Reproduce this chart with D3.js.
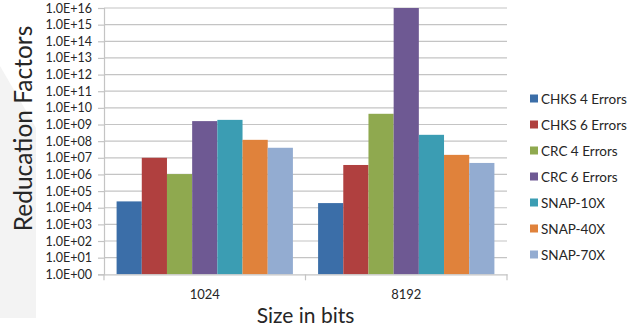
<!DOCTYPE html>
<html>
<head>
<meta charset="utf-8">
<script src="https://cdn.jsdelivr.net/npm/d3@7/dist/d3.min.js"></script>
<style>
  html, body { margin: 0; padding: 0; background: #fff; }
  svg { display: block; font-family: Lato, "Open Sans", sans-serif; }
</style>
</head>
<body>
<svg id="chart" width="634" height="326"></svg>
<script>
// Block sizes on the x axis
const categories = ["1024", "8192"];

// Series names and fill colours
const seriesNames = ["CHKS 4 Errors", "CHKS 6 Errors", "CRC 4 Errors", "CRC 6 Errors",
                     "SNAP-10X", "SNAP-40X", "SNAP-70X"];
const seriesColors = ["#3b6ea8", "#b0403f", "#8fa94f", "#6e5993", "#3b9db3", "#e0823b", "#93acd1"];

// Reduction factor per series, one value per category
const chks4 = [2.4e4, 1.9e4];
const chks6 = [1.0e7, 3.7e6];
const crc4  = [1.05e6, 4.4e9];
const crc6  = [1.6e9, 1.0e16];
const snap10 = [1.9e9, 2.4e8];
const snap40 = [1.2e8, 1.5e7];
const snap70 = [4.0e7, 4.9e6];
const seriesValues = [chks4, chks6, crc4, crc6, snap10, snap40, snap70];

// Decade ticks on the log axis and their labels
const tickValues = [1e0, 1e1, 1e2, 1e3, 1e4, 1e5, 1e6, 1e7, 1e8, 1e9, 1e10, 1e11, 1e12, 1e13, 1e14, 1e15, 1e16];
const tickLabels = ["1.0E+00", "1.0E+01", "1.0E+02", "1.0E+03", "1.0E+04", "1.0E+05", "1.0E+06",
                    "1.0E+07", "1.0E+08", "1.0E+09", "1.0E+10", "1.0E+11", "1.0E+12", "1.0E+13",
                    "1.0E+14", "1.0E+15", "1.0E+16"];

const svg = d3.select("#chart");
const plot = { left: 104, right: 507, top: 8, bottom: 274.3 };
const gridColor = "#c4c4c4";
const textColor = "#262626";

// faint background shape on the left edge
svg.append("path")
  .attr("d", "M0,66 L36,128 L36,318 L0,318 Z")
  .attr("fill", "#f3f3f3");

const x0 = d3.scaleBand().domain(categories).range([plot.left, plot.right]).padding(0);
const x1 = d3.scaleBand().domain(d3.range(seriesNames.length))
  .range([0, x0.bandwidth()]).paddingInner(0).paddingOuter(0.5);
const y = d3.scaleLog().domain([1, 1e16]).range([plot.bottom, plot.top]);

// horizontal gridlines
svg.append("g").selectAll("line").data(tickValues.slice(1)).join("line")
  .attr("x1", plot.left).attr("x2", plot.right)
  .attr("y1", d => y(d)).attr("y2", d => y(d))
  .attr("stroke", gridColor).attr("stroke-width", 1.2);

// y axis
const yAxis = d3.axisLeft(y).tickValues(tickValues)
  .tickFormat((d, i) => tickLabels[i]).tickSize(6).tickPadding(6);
const gy = svg.append("g").attr("transform", `translate(${plot.left},0)`).call(yAxis);
gy.select(".domain").attr("stroke", gridColor).attr("stroke-width", 1.2);
gy.selectAll(".tick line").attr("stroke", gridColor).attr("stroke-width", 1.2);
gy.selectAll(".tick text").attr("fill", textColor).style("font-size", "12.5px")
  .style("font-family", "Lato, sans-serif");

// bars
const groups = svg.append("g").selectAll("g").data(categories).join("g")
  .attr("transform", d => `translate(${x0(d)},0)`);
groups.selectAll("rect")
  .data((c, ci) => seriesValues.map((vals, si) => ({ si, v: vals[ci] })))
  .join("rect")
  .attr("x", d => x1(d.si))
  .attr("width", x1.bandwidth())
  .attr("y", d => y(d.v))
  .attr("height", d => y(1) - y(d.v))
  .attr("fill", d => seriesColors[d.si]);

// x axis
const xAxis = d3.axisBottom(x0).tickSize(0).tickPadding(15);
const gx = svg.append("g").attr("transform", `translate(0,${plot.bottom})`).call(xAxis);
gx.select(".domain").attr("stroke", gridColor).attr("stroke-width", 1.2);
gx.selectAll(".tick text").attr("fill", textColor).style("font-size", "13px")
  .style("font-family", "Lato, sans-serif");
// category separators below the axis
const seps = [plot.left, ...categories.slice(1).map(c => x0(c)), plot.right];
svg.append("g").selectAll("line").data(seps).join("line")
  .attr("x1", d => d).attr("x2", d => d)
  .attr("y1", plot.bottom).attr("y2", plot.bottom + 6)
  .attr("stroke", gridColor).attr("stroke-width", 1.2);

// axis titles
svg.append("text")
  .attr("transform", `translate(32,${(25 + 232) / 2}) rotate(-90)`)
  .attr("text-anchor", "middle")
  .attr("fill", textColor)
  .style("font-size", "24.5px")
  .text("Reducation Factors");

svg.append("text")
  .attr("x", (plot.left + plot.right) / 2).attr("y", 323)
  .attr("text-anchor", "middle")
  .attr("fill", textColor)
  .style("font-size", "21px")
  .text("Size in bits");

// legend
const legend = svg.append("g").attr("transform", "translate(530,99)");
const items = legend.selectAll("g").data(seriesNames).join("g")
  .attr("transform", (d, i) => `translate(0,${i * 26})`);
items.append("rect").attr("x", 0).attr("y", -4.5).attr("width", 8).attr("height", 8)
  .attr("fill", (d, i) => seriesColors[i]);
items.append("text").attr("x", 11).attr("y", 0).attr("dy", "0.36em")
  .attr("fill", textColor).style("font-size", "13.5px").text(d => d);
</script>
</body>
</html>
